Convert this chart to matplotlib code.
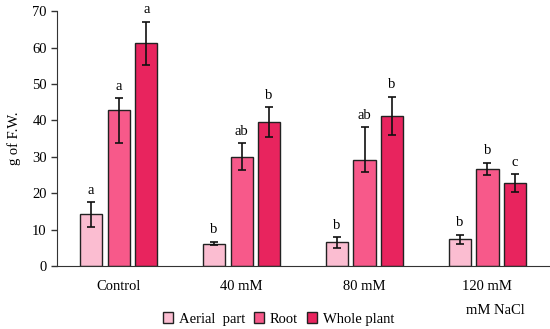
import matplotlib.pyplot as plt
import numpy as np

plt.rcParams['font.family'] = ['Liberation Serif', 'DejaVu Serif']
plt.rcParams['font.size'] = 10.5

groups = ['Control', '40 mM', '80 mM', '120 mM']
series = ['Aerial  part', 'Root', 'Whole plant']
colors = ['#FBBDD1', '#F7598A', '#E8245E']

aerial = [14.2, 6.2, 6.5, 7.4]
root = [43.0, 30.1, 29.2, 26.6]
whole = [61.3, 39.5, 41.3, 22.8]

aerial_lo = [3.4, 0.5, 1.5, 1.2]
aerial_hi = [3.4, 0.5, 1.5, 1.2]
root_lo = [9.2, 3.7, 3.3, 1.6]
root_hi = [3.1, 3.6, 9.0, 1.8]
whole_lo = [6.0, 4.0, 5.2, 2.5]
whole_hi = [5.8, 4.1, 5.2, 2.5]

aerial_let = ['a', 'b', 'b', 'b']
root_let = ['a', 'ab', 'ab', 'b']
whole_let = ['a', 'b', 'b', 'c']

values = [aerial, root, whole]
err_lo = [aerial_lo, root_lo, whole_lo]
err_hi = [aerial_hi, root_hi, whole_hi]
letters = [aerial_let, root_let, whole_let]

fig = plt.figure(figsize=(5.5, 3.29), dpi=100)
ax = fig.add_axes([0.104, 0.191, 0.894, 0.775])

x = np.arange(len(groups))
w = 0.18
step = 0.224
for i in range(3):
    pos = x + (i - 1) * step
    ax.bar(pos, values[i], w, color=colors[i], edgecolor='#222222', linewidth=1.0,
           label=series[i], zorder=2)
    ax.errorbar(pos, values[i], yerr=[err_lo[i], err_hi[i]], fmt='none',
                ecolor='#111111', elinewidth=1.2, capsize=3, capthick=1.2, zorder=3)
    for p, v, h, t in zip(pos, values[i], err_hi[i], letters[i]):
        ax.text(p, v + h + 1.5, t, ha='center', va='bottom', fontsize=10.5)

ax.set_xlim(-0.5, 3.5)
ax.set_ylim(0, 70)
ax.set_yticks(range(0, 71, 10))
ax.set_xticks(x)
ax.set_xticklabels(groups)
ax.tick_params(axis='x', length=0, pad=10)
ax.tick_params(axis='y', length=4, width=1, color='#333333')
for s in ['top', 'right']:
    ax.spines[s].set_visible(False)
ax.spines['left'].set_color('#333333')
ax.spines['bottom'].set_color('#333333')
ax.set_ylabel('g of F.W.', labelpad=8)

fig.text(0.9, 0.057, 'mM NaCl', ha='center', va='center', fontsize=10.5)
ax.legend(loc='upper center', bbox_to_anchor=(0.45, -0.13), ncol=3, frameon=False,
          handlelength=0.7, handleheight=0.7, handletextpad=0.4, columnspacing=0.6,
          fontsize=10.5)

plt.savefig('out.png')
